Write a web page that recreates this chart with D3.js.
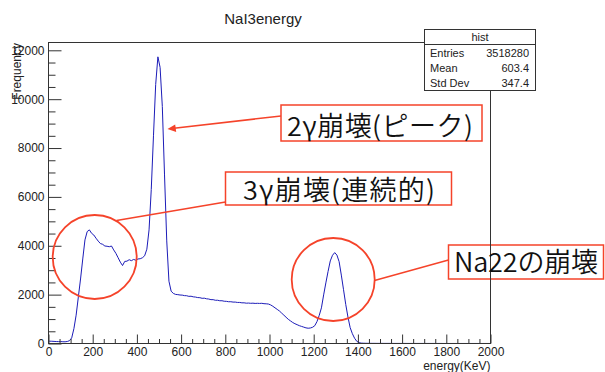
<!DOCTYPE html>
<html>
<head>
<meta charset="utf-8">
<script src="https://cdn.jsdelivr.net/npm/d3@7"></script>
<style>
  body { margin: 0; background: #fff; }
  svg { display: block; }
</style>
</head>
<body>
<svg id="chart" width="605" height="372"></svg>
<script>
// NaI detector energy spectrum, counts per keV sampled on 10 keV steps
const binWidth = 10;
const counts = [
  95, 92, 86, 80, 77, 79, 72, 70, 82, 115,
  230, 610, 1160, 1900, 2640, 3460, 4240, 4580, 4650, 4510,
  4440, 4310, 4190, 4090, 4060, 3990, 3980, 3960, 3990, 3830,
  3690, 3510, 3330, 3190, 3360, 3370, 3430, 3390, 3440, 3410,
  3460, 3470, 3510, 3590, 3860, 4650, 6300, 8500, 10600, 11733,
  11300, 9700, 6900, 4200, 2550, 2140, 2050, 2010, 2000, 1985,
  1980, 1960, 1955, 1930, 1935, 1910, 1900, 1880, 1875, 1850,
  1855, 1830, 1820, 1795, 1795, 1770, 1770, 1750, 1750, 1730,
  1725, 1710, 1710, 1695, 1695, 1680, 1680, 1665, 1665, 1650,
  1655, 1645, 1650, 1640, 1645, 1640, 1645, 1630, 1625, 1615,
  1580, 1525, 1460, 1395, 1330, 1245, 1160, 1075, 990, 925,
  860, 810, 770, 730, 700, 670, 640, 625, 635, 665,
  730, 900, 1150, 1460, 1990, 2480, 2950, 3380, 3610, 3720,
  3620, 3350, 2800, 2200, 1600, 1080, 650, 400, 215, 90,
  35, 16, 12, 9, 8, 7, 6, 6, 5, 5,
  5, 4, 4, 4, 4, 3, 3, 3, 3, 3,
  3, 3, 2, 2, 2, 2, 2, 2, 2, 2,
  2, 2, 2, 2, 2, 2, 2, 2, 1, 1,
  1, 1, 1, 1, 1, 1, 1, 1, 1, 1,
  1, 1, 1, 1, 1, 1, 1, 1, 1, 1
];
const xTicks = [0, 200, 400, 600, 800, 1000, 1200, 1400, 1600, 1800, 2000];
const yTicks = [0, 2000, 4000, 6000, 8000, 10000, 12000];
const statLabels = ["Entries", "Mean", "Std Dev"];
const statValues = ["3518280", "603.4", "347.4"];

const title = "NaI3energy";
const xTitle = "energy(KeV)";
const yTitle = "Frequency";
const statTitle = "hist";
const noteTexts = ["2γ崩壊(ピーク)", "3γ崩壊(連続的)", "Na22の崩壊"];

const svg = d3.select("#chart");
const W = 605, H = 372;
const plot = { left: 48.5, right: 490.5, top: 42.5, bottom: 343.5 };
const latin = "'Liberation Sans', Arial, Helvetica, sans-serif";
const cjk = "'Noto Sans CJK JP', 'Noto Sans', sans-serif";
const red = "#f5432a";

svg.append("rect").attr("width", W).attr("height", H).attr("fill", "#fff");

const x = d3.scaleLinear().domain([0, 2000]).range([plot.left, plot.right]);
const yMax = d3.max(counts) * 1.05;
const y = d3.scaleLinear().domain([0, yMax]).range([plot.bottom, plot.top]);

// Histogram trace
const pts = counts.map((c, i) => [i * binWidth + binWidth / 2, c]);
pts.unshift([0, counts[0]]);
pts.push([2000, counts[counts.length - 1]]);
svg.append("path")
  .datum(pts)
  .attr("fill", "none")
  .attr("stroke", "#1c1cb8")
  .attr("stroke-width", 1)
  .attr("stroke-linejoin", "round")
  .attr("d", d3.line().x(d => x(d[0])).y(d => y(d[1])));

// Axes with inward ticks
const xMinor = d3.range(0, 2001, 50).filter(v => v % 200 !== 0);
const yMinor = d3.range(0, yMax, 500).filter(v => v % 2000 !== 0);

const gx = svg.append("g").attr("transform", `translate(0,${plot.bottom})`);
gx.call(d3.axisBottom(x).tickValues(xTicks).tickSize(-9).tickPadding(3.5).tickFormat(d3.format("d")));
gx.append("g").call(d3.axisBottom(x).tickValues(xMinor).tickSize(-4.5).tickFormat(""));

const gy = svg.append("g").attr("transform", `translate(${plot.left},0)`);
gy.call(d3.axisLeft(y).tickValues(yTicks).tickSize(-13).tickPadding(4).tickFormat(d3.format("d")));
gy.append("g").call(d3.axisLeft(y).tickValues(yMinor).tickSize(-7).tickFormat(""));

svg.selectAll(".domain").remove();
svg.selectAll(".tick line").attr("stroke", "#333").attr("stroke-width", 1);
svg.selectAll(".tick text")
  .attr("font-family", latin).attr("font-size", 12).attr("fill", "#222");

// Frame
svg.append("rect")
  .attr("x", plot.left).attr("y", plot.top)
  .attr("width", plot.right - plot.left).attr("height", plot.bottom - plot.top)
  .attr("fill", "none").attr("stroke", "#333").attr("stroke-width", 1);

// Titles
svg.append("text").text(title)
  .attr("x", 263).attr("y", 24).attr("text-anchor", "middle")
  .attr("font-family", latin).attr("font-size", 15).attr("fill", "#222");
svg.append("text").text(xTitle)
  .attr("x", plot.right).attr("y", 369.5).attr("text-anchor", "end")
  .attr("font-family", latin).attr("font-size", 12).attr("fill", "#222");
svg.append("text").text(yTitle)
  .attr("transform", `translate(21,${plot.top + 0.5}) rotate(-90)`)
  .attr("text-anchor", "end")
  .attr("font-family", latin).attr("font-size", 12).attr("fill", "#222");

// Statistics box
const sb = { x: 424.5, y: 29.5, w: 111, h: 61 };
const gs = svg.append("g");
gs.append("rect").attr("x", sb.x).attr("y", sb.y).attr("width", sb.w).attr("height", sb.h)
  .attr("fill", "#fff").attr("stroke", "#333").attr("stroke-width", 1);
gs.append("line").attr("x1", sb.x).attr("x2", sb.x + sb.w).attr("y1", 44.5).attr("y2", 44.5)
  .attr("stroke", "#333");
gs.append("text").text(statTitle).attr("x", sb.x + sb.w / 2).attr("y", 40.5)
  .attr("text-anchor", "middle").attr("font-family", latin).attr("font-size", 11).attr("fill", "#222");
const rowY = [56.7, 72, 86.5];
statLabels.forEach((lab, i) => {
  gs.append("text").text(lab).attr("x", 430).attr("y", rowY[i])
    .attr("font-family", latin).attr("font-size", 11).attr("fill", "#222");
  gs.append("text").text(statValues[i]).attr("x", 529).attr("y", rowY[i])
    .attr("text-anchor", "end").attr("font-family", latin).attr("font-size", 11).attr("fill", "#222");
});

// Annotations
const ga = svg.append("g").attr("fill", "none").attr("stroke", red);
// peak label with arrow
ga.append("line").attr("x1", 281).attr("y1", 116).attr("x2", 174).attr("y2", 128.3).attr("stroke-width", 1.5);
ga.append("path").attr("d", "M167.5,129.1 L175.2,124.6 L176.2,132.0 Z").attr("fill", red).attr("stroke", "none");
ga.append("rect").attr("x", 281).attr("y", 105).attr("width", 201).attr("height", 36).attr("stroke-width", 1.5);
// continuum label
ga.append("circle").attr("cx", 94.7).attr("cy", 257).attr("r", 42).attr("stroke-width", 1.8);
ga.append("line").attr("x1", 116.5).attr("y1", 220.5).attr("x2", 225.5).attr("y2", 202).attr("stroke-width", 1.5);
ga.append("rect").attr("x", 225.5).attr("y", 172).attr("width", 226).attr("height", 33).attr("stroke-width", 1.5);
// Na22 label
ga.append("circle").attr("cx", 333.2).attr("cy", 279.5).attr("r", 41.5).attr("stroke-width", 1.8);
ga.append("line").attr("x1", 374.5).attr("y1", 280.5).attr("x2", 448.5).attr("y2", 260).attr("stroke-width", 1.5);
ga.append("rect").attr("x", 448.5).attr("y", 245).attr("width", 155).attr("height", 34).attr("stroke-width", 1.5);

// frame edge runs over the transparent Na22 box
svg.append("line").attr("x1", plot.right).attr("x2", plot.right).attr("y1", 240).attr("y2", 285)
  .attr("stroke", "#333");

// label texts, spaced out to span their boxes
const notePos = [[287, 136, 186], [243, 200, 192], [454, 272, 144]];
noteTexts.forEach((t, i) => {
  const el = svg.append("text").text(t).attr("x", notePos[i][0]).attr("y", notePos[i][1])
    .attr("font-family", cjk).attr("font-size", 27).attr("font-weight", 350).attr("fill", "#111");
  const len = el.node().getComputedTextLength();
  const n = Array.from(t).length;
  const sp = (notePos[i][2] - len) / (n - 1);
  el.attr("letter-spacing", sp.toFixed(2));
});
</script>
</body>
</html>
